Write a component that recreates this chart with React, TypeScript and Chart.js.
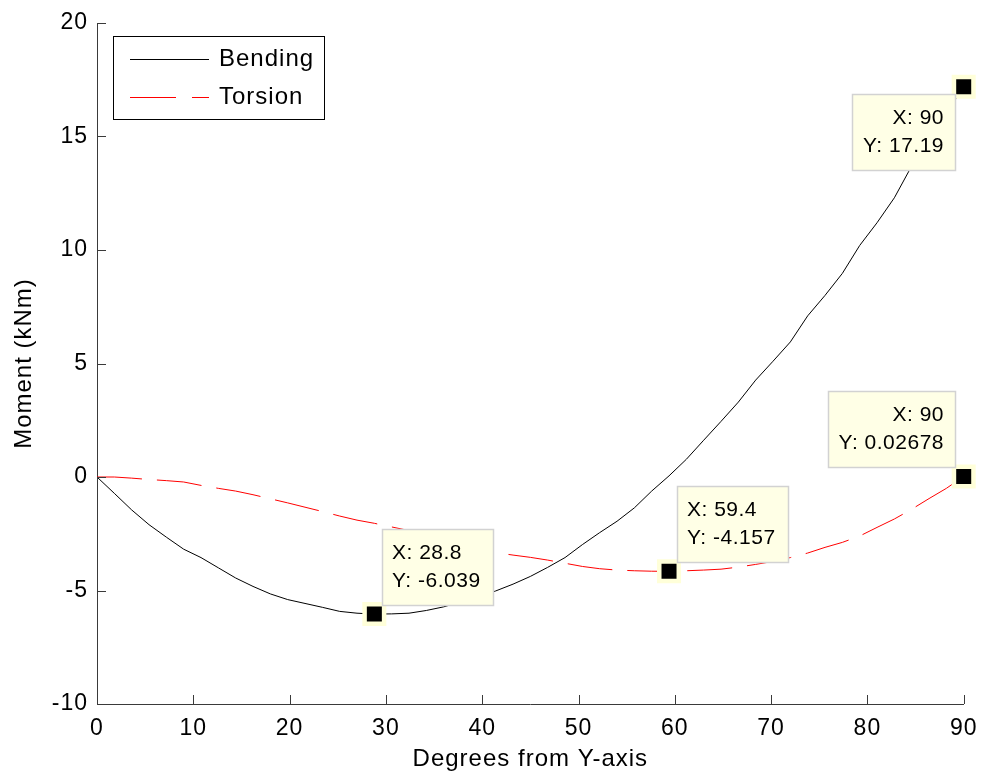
import React, { useEffect, useRef } from "react";
import { Chart, registerables } from "chart.js";

Chart.register(...registerables);

const degrees = [
  0, 1.8, 3.6, 5.4, 7.2, 9.0, 10.8, 12.6, 14.4, 16.2, 18.0, 19.8, 21.6, 23.4, 25.2, 27.0, 28.8,
  30.6, 32.4, 34.2, 36.0, 37.8, 39.6, 41.4, 43.2, 45.0, 46.8, 48.6, 50.4, 52.2, 54.0, 55.8, 57.6,
  59.4, 61.2, 63.0, 64.8, 66.6, 68.4, 70.2, 72.0, 73.8, 75.6, 77.4, 79.2, 81.0, 82.8, 84.6, 86.4,
  88.2, 90.0,
];

const bending = [
  0, -0.72, -1.45, -2.1, -2.65, -3.18, -3.55, -4.0, -4.45, -4.82, -5.15, -5.4, -5.57, -5.74, -5.92,
  -6.0, -6.039, -6.03, -6.0, -5.88, -5.72, -5.5, -5.28, -5.02, -4.72, -4.38, -3.98, -3.55, -2.98,
  -2.45, -1.95, -1.36, -0.62, 0.05, 0.78, 1.62, 2.45, 3.3, 4.27, 5.1, 5.95, 7.1, 8.0, 8.97, 10.2,
  11.2, 12.3, 13.7, 14.8, 16.0, 17.19,
];

const torsion = [
  0, 0, -0.05, -0.11, -0.16, -0.22, -0.37, -0.5, -0.62, -0.78, -0.96, -1.14, -1.33, -1.52, -1.72,
  -1.9, -2.04, -2.2, -2.36, -2.6, -2.85, -3.05, -3.22, -3.33, -3.44, -3.54, -3.66, -3.8, -3.94,
  -4.04, -4.1, -4.13, -4.15, -4.157, -4.13, -4.1, -4.06, -3.97, -3.85, -3.72, -3.55, -3.35, -3.1,
  -2.88, -2.6, -2.22, -1.85, -1.42, -0.95, -0.5, 0.02678,
];

const tipX = [90, 28.8, 59.4, 90];
const tipY = [17.19, -6.039, -4.157, 0.02678];
const tipXText = ["X: 90", "X: 28.8", "X: 59.4", "X: 90"];
const tipYText = ["Y: 17.19", "Y: -6.039", "Y: -4.157", "Y: 0.02678"];
// box placement relative to marker: [horizontal, vertical]
const tipPlace = [
  ["left", "below"],
  ["right", "above"],
  ["right", "above"],
  ["left", "above"],
];

const legendLabels = ["Bending", "Torsion"];

const FONT = "'Liberation Sans', Arial, sans-serif";

const spacingPlugin = {
  id: "spacing",
  beforeDraw(chart: any) {
    (chart.ctx as any).letterSpacing = "1px";
  },
};

const decorPlugin = {
  id: "decor",
  afterDatasetsDraw(chart: any) {
    const ctx = chart.ctx;
    const xs = chart.scales.x;
    const ys = chart.scales.y;
    const area = chart.chartArea;
    ctx.save();
    // inward ticks
    ctx.strokeStyle = "#3a3a3a";
    ctx.lineWidth = 1;
    ctx.beginPath();
    xs.ticks.forEach((t: any) => {
      const px = Math.round(xs.getPixelForValue(t.value)) + 0.5;
      ctx.moveTo(px, area.bottom);
      ctx.lineTo(px, area.bottom - 9);
    });
    ys.ticks.forEach((t: any) => {
      const py = Math.round(ys.getPixelForValue(t.value)) + 0.5;
      ctx.moveTo(area.left, py);
      ctx.lineTo(area.left + 9, py);
    });
    ctx.stroke();

    // legend
    const lx = area.left + 16;
    const ly = area.top + 13;
    const lw = 211;
    const lh = 83;
    ctx.fillStyle = "#ffffff";
    ctx.fillRect(lx, ly, lw, lh);
    ctx.strokeStyle = "#000000";
    ctx.lineWidth = 1;
    ctx.strokeRect(lx + 0.5, ly + 0.5, lw, lh);
    const rows = [ly + 23, ly + 61];
    const colors = ["#000000", "#ff0000"];
    const dashes = [[], [46, 16]];
    rows.forEach((ry, i) => {
      ctx.beginPath();
      ctx.strokeStyle = colors[i];
      ctx.setLineDash(dashes[i]);
      ctx.moveTo(lx + 17, ry + 0.5);
      ctx.lineTo(lx + 96, ry + 0.5);
      ctx.stroke();
      ctx.setLineDash([]);
      ctx.fillStyle = "#000000";
      ctx.font = `24px ${FONT}`;
      ctx.letterSpacing = "1px";
      ctx.textAlign = "left";
      ctx.textBaseline = "middle";
      ctx.fillText(legendLabels[i], lx + 106, ry);
    });

    // data tip boxes
    ctx.font = `21px ${FONT}`;
    ctx.letterSpacing = "0.5px";
    tipX.forEach((xv, i) => {
      const px = xs.getPixelForValue(xv);
      const py = ys.getPixelForValue(tipY[i]);
      const w1 = ctx.measureText(tipXText[i]).width;
      const w2 = ctx.measureText(tipYText[i]).width;
      const bw = Math.round(Math.max(w1, w2) + 22);
      const bh = 76;
      const [hz, vt] = tipPlace[i];
      const bx = Math.round(hz === "left" ? px - 9 - bw : px + 8);
      const by = Math.round(vt === "above" ? py - 9 - bh : py + 7);
      ctx.fillStyle = "#ffffe6";
      ctx.fillRect(bx, by, bw, bh);
      ctx.strokeStyle = "#d2d2d2";
      ctx.lineWidth = 1.5;
      ctx.strokeRect(bx + 0.5, by + 0.5, bw, bh);
      ctx.fillStyle = "#000000";
      ctx.textBaseline = "middle";
      if (hz === "left") {
        ctx.textAlign = "right";
        ctx.fillText(tipXText[i], bx + bw - 11, by + 24);
        ctx.fillText(tipYText[i], bx + bw - 11, by + 52);
      } else {
        ctx.textAlign = "left";
        ctx.fillText(tipXText[i], bx + 10, by + 24);
        ctx.fillText(tipYText[i], bx + 10, by + 52);
      }
    });
    ctx.restore();
  },
};

export default function App() {
  const ref = useRef<HTMLCanvasElement | null>(null);
  useEffect(() => {
    if (!ref.current) return;
    const chart = new Chart(ref.current, {
      type: "line",
      data: {
        datasets: [
          {
            label: "Bending",
            data: degrees.map((d, i) => ({ x: d, y: bending[i] })),
            borderColor: "#000000",
            borderWidth: 1,
            pointRadius: 0,
            tension: 0,
            order: 2,
          },
          {
            label: "Torsion",
            data: degrees.map((d, i) => ({ x: d, y: torsion[i] })),
            borderColor: "#ff0000",
            borderWidth: 1,
            borderDash: [45, 15],
            pointRadius: 0,
            tension: 0,
            order: 1,
          },
          {
            label: "Data tips",
            type: "scatter",
            data: tipX.map((x, i) => ({ x, y: tipY[i] })),
            pointStyle: "rect",
            pointRadius: 13.8,
            backgroundColor: "#000000",
            borderColor: "#ffffd9",
            borderWidth: 4.5,
            showLine: false,
            clip: false,
            order: 0,
          } as any,
        ],
      },
      options: {
        animation: false,
        responsive: false,
        maintainAspectRatio: false,
        layout: { padding: { left: 0, top: 23, right: 17, bottom: 0 } },
        plugins: {
          legend: { display: false },
          tooltip: { enabled: false },
        },
        scales: {
          x: {
            type: "linear",
            min: 0,
            max: 90,
            ticks: {
              stepSize: 10,
              color: "#000000",
              font: { family: FONT, size: 23 },
              padding: 11,
              maxRotation: 0,
            },
            grid: { display: false, drawTicks: false },
            border: { display: true, color: "#3a3a3a", width: 1 },
            title: {
              display: true,
              text: "Degrees from Y-axis",
              color: "#000000",
              font: { family: FONT, size: 24 },
              padding: { top: 0, bottom: 2 },
            },
            afterFit: (s: any) => {
              s.height = 72;
              s.paddingLeft = 0;
              s.paddingRight = 0;
            },
          },
          y: {
            type: "linear",
            min: -10,
            max: 20,
            ticks: {
              stepSize: 5,
              color: "#000000",
              font: { family: FONT, size: 23 },
              padding: 9,
            },
            grid: { display: false, drawTicks: false },
            border: { display: true, color: "#3a3a3a", width: 1 },
            title: {
              display: true,
              text: "Moment (kNm)",
              color: "#000000",
              font: { family: FONT, size: 24 },
              padding: { top: 10, bottom: 0 },
            },
            afterFit: (s: any) => {
              s.width = 97;
              s.paddingTop = 0;
              s.paddingBottom = 0;
            },
          },
        },
      },
      plugins: [spacingPlugin, decorPlugin],
    });
    return () => chart.destroy();
  }, []);
  return (
    <div style={{ position: "fixed", left: 0, top: 0, width: 982, height: 776, background: "#fff" }}>
      <canvas ref={ref} width={982} height={776} style={{ width: 982, height: 776 }} />
    </div>
  );
}
